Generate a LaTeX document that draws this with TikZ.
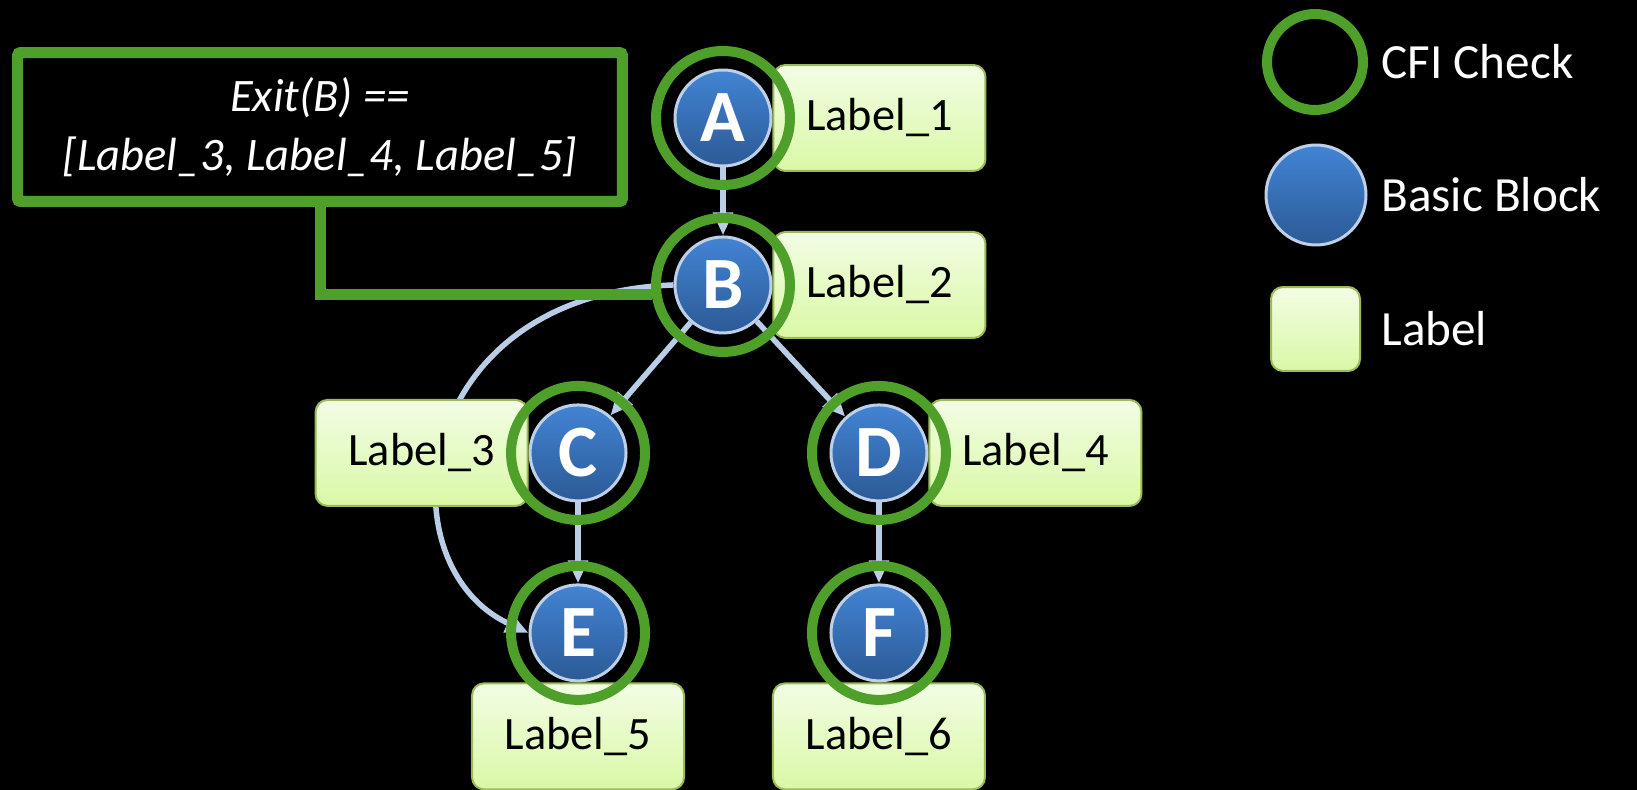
\documentclass[tikz,border=0pt]{standalone}
\usepackage{fontspec}
\setmainfont{Carlito}
\usetikzlibrary{arrows.meta,positioning}
\pgfdeclarelayer{bg}
\pgfdeclarelayer{edges}
\pgfsetlayers{bg,edges,main}
\definecolor{cfigreen}{RGB}{78,160,42}
\definecolor{edgeblue}{RGB}{186,205,230}
\definecolor{bbtop}{RGB}{66,132,212}
\definecolor{bbbottom}{RGB}{44,90,150}
\definecolor{bbrim}{RGB}{190,208,232}
\definecolor{tagtop}{RGB}{242,253,228}
\definecolor{tagbottom}{RGB}{218,248,166}
\definecolor{tagrim}{RGB}{155,187,89}
\tikzset{
	tagbox/.style={
		rectangle,
		rounded corners=0.24cm,
		draw=tagrim, line width=0.04cm,
		top color=tagtop, bottom color=tagbottom,
		minimum width=4.24cm,
		minimum height=2.12cm,
		inner sep=0pt,
		text=black,
		font=\fontsize{26.4}{30}\selectfont,
	},
}

\begin{document}
\begin{tikzpicture}[
    x=0.02cm, y=-0.02cm,
    bblock/.style={
        circle,
        draw=bbrim, line width=0.06cm,
        top color=bbtop, bottom color=bbbottom,
        minimum size=1.92cm,
        inner sep=0pt,
        text=white,
        font=\fontsize{42}{48}\selectfont\bfseries
    },
    cfiring/.style={
        circle,
        draw=cfigreen, line width=0.2cm,
        minimum size=2.68cm,
        inner sep=0pt
    },
    exitbox/.style={
        rectangle,
        draw=cfigreen, line width=0.22cm,
        fill=black,
        rounded corners=0.06cm,
        minimum width=12.1cm,
        minimum height=2.98cm,
        align=center,
        text=white,
        font=\fontsize{26.5}{33.5}\selectfont\itshape
    },
    legtext/.style={
        anchor=west,
        inner sep=0pt,
        text=white,
        font=\fontsize{28}{32}\selectfont
    },
    flow/.style={draw=edgeblue, line width=0.11cm, -{Triangle[width=0.38cm,length=0.46cm]}},
    exitline/.style={draw=cfigreen, line width=0.22cm}
]

\useasboundingbox (0,0) rectangle (1637,790);
\begin{pgfonlayer}{bg}
\fill[black] (0,0) rectangle (1637,790);
\end{pgfonlayer}

% basic blocks
\node[bblock] (A) at (723,118) {A};
\node[bblock, on grid, below=3.34cm of A] (B) {B};
\node[bblock, on grid, below left=3.36cm and 2.9cm of B] (C) {C};
\node[bblock, on grid, below right=3.36cm and 3.12cm of B] (D) {D};
\node[bblock, on grid, below=3.6cm of C] (E) {E};
\node[bblock, on grid, below=3.6cm of D] (F) {F};

% labels
\node[tagbox, right=0pt of A] (lab1) {Label\_1};
\node[tagbox, right=0pt of B] (lab2) {Label\_2};
\node[tagbox, left=0pt of C] (lab3) {Label\_3};
\node[tagbox, right=0pt of D] (lab4) {Label\_4};
\node[tagbox, below=0pt of E] (lab5) {Label\_5};
\node[tagbox, below=0pt of F] (lab6) {Label\_6};

\begin{pgfonlayer}{edges}
\draw[flow] (A) -- (B);
\draw[flow] (B) -- (C);
\draw[flow] (B) -- (D);
\draw[flow] (C) -- (E);
\draw[flow] (D) -- (F);
\draw[flow] (B.west) to[out=182, in=155, out looseness=1.8, in looseness=1.1] (E.west);
\end{pgfonlayer}

% CFI checks
\node[cfiring] (chkA) at (A) {};
\node[cfiring] (chkB) at (B) {};
\node[cfiring] (chkC) at (C) {};
\node[cfiring] (chkD) at (D) {};
\node[cfiring] (chkE) at (E) {};
\node[cfiring] (chkF) at (F) {};

% exit set of B
\node[exitbox] (exit) at (320,127) {Exit(B) ==\\{}[Label\_3, Label\_4, Label\_5]};
\draw[exitline] (exit.south) |- (chkB.188);

% legend
\node[cfiring, minimum size=1.92cm] (legchk) at (1315,62) {};
\node[bblock, minimum size=2cm] (legbb) at (1316,195) {};
\node[tagbox, minimum width=1.78cm, minimum height=1.68cm] (legtag) at (1315.5,329) {};
\node[legtext, right=0.26cm of legchk] (legchktext) {CFI Check};
\node[legtext, right=0.27cm of legbb] (legbbtext) {Basic Block};
\node[legtext, right=0.4cm of legtag] (legtagtext) {Label};

\end{tikzpicture}
\end{document}
